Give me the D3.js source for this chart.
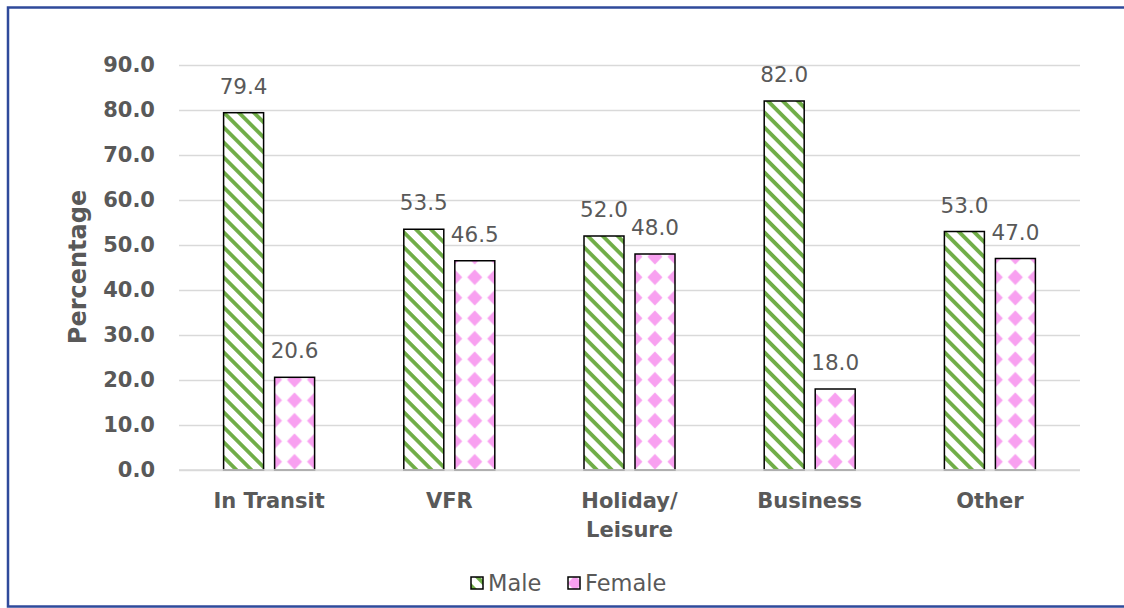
<!DOCTYPE html>
<html lang="en">
<head>
    <meta charset="UTF-8">
    <title>Purpose of Visit by Sex</title>
    <style>
        body { margin: 0; background: #fff; }
        svg { display: block; font-family: "DejaVu Sans", "Noto Sans", sans-serif; }
    </style>
    <script src="https://d3js.org/d3.v7.min.js"></script>
</head>
<body>
    <svg width="1124" height="608"></svg>

    <script>
        // data
        const categories = [['In Transit'], ['VFR'], ['Holiday/', 'Leisure'], ['Business'], ['Other']];
        const seriesNames = ['Male', 'Female'];
        const male = [79.4, 53.5, 52.0, 82.0, 53.0];
        const female = [20.6, 46.5, 48.0, 18.0, 47.0];
        const yTicks = [0, 10, 20, 30, 40, 50, 60, 70, 80, 90];

        const textColor = '#595959';
        const svg = d3.select('svg');

        // fill patterns
        const defs = svg.append('defs');
        function stripePattern(id) {
            const p = defs.append('pattern')
                .attr('id', id)
                .attr('patternUnits', 'userSpaceOnUse')
                .attr('width', 10.6).attr('height', 10.6)
                .attr('patternTransform', 'rotate(45)');
            p.append('rect').attr('width', 10.6).attr('height', 10.6).attr('fill', '#fff');
            p.append('rect').attr('y', 0).attr('width', 10.6).attr('height', 3.8).attr('fill', '#70AD47');
        }
        // pattern offsets are in the local coords of whatever uses them
        function diamondPattern(id, ox, oy) {
            const p = defs.append('pattern')
                .attr('id', id)
                .attr('patternUnits', 'userSpaceOnUse')
                .attr('x', ox).attr('y', oy)
                .attr('width', 20).attr('height', 20.5);
            p.append('rect').attr('width', 20).attr('height', 20.5).attr('fill', '#fff');
            p.append('path')
                .attr('d', 'M10 2.5 L17.5 10.25 L10 18 L2.5 10.25 Z')
                .attr('fill', '#F8A0F0');
        }
        stripePattern('pat-male');
        diamondPattern('pat-female', 5.5, -3);
        diamondPattern('pat-female-leg', -3, -10);

        const margin = { left: 179, right: 44, top: 65, bottom: 138 };
        const width = 1124 - margin.left - margin.right;
        const height = 608 - margin.top - margin.bottom;

        const x = d3.scaleBand().domain(d3.range(categories.length)).range([0, width]);
        const xs = d3.scaleBand().domain(seriesNames)
            .range([x.bandwidth() / 2 - 45.5, x.bandwidth() / 2 + 45.5]).paddingInner(0.216);
        const y = d3.scaleLinear().domain([0, 90]).range([height, 0]);

        const g = svg.append('g').attr('transform', `translate(${margin.left},${margin.top})`);

        // gridlines + y labels
        g.append('g')
            .call(d3.axisLeft(y).tickValues(yTicks).tickSize(-width).tickFormat(d => d.toFixed(1)))
            .call(a => a.select('.domain').remove())
            .call(a => a.selectAll('.tick line').attr('stroke', '#D9D9D9').attr('stroke-width', 1.3))
            .call(a => a.selectAll('.tick text')
                .attr('x', -24)
                .attr('fill', textColor)
                .attr('font-family', '"DejaVu Sans", sans-serif')
                .attr('font-size', 21)
                .attr('font-weight', 700));

        // bars
        const rows = categories.map((c, i) => ({ i, vals: [male[i], female[i]] }));
        const grp = g.selectAll('.grp').data(rows).join('g')
            .attr('transform', d => `translate(${x(d.i)},0)`);

        grp.selectAll('rect')
            .data(d => d.vals.map((v, k) => ({ key: seriesNames[k], v })))
            .join('rect')
            .attr('x', d => xs(d.key))
            .attr('y', d => y(d.v))
            .attr('width', xs.bandwidth())
            .attr('height', d => y(0) - y(d.v))
            .attr('fill', d => d.key === 'Male' ? 'url(#pat-male)' : 'url(#pat-female)')
            .attr('stroke', '#000')
            .attr('stroke-width', 1.5);

        grp.selectAll('.lbl')
            .data(d => d.vals.map((v, k) => ({ key: seriesNames[k], v })))
            .join('text')
            .attr('class', 'lbl')
            .attr('x', d => xs(d.key) + xs.bandwidth() / 2)
            .attr('y', d => y(d.v) - 19)
            .attr('text-anchor', 'middle')
            .attr('fill', textColor)
            .attr('font-size', 21.5)
            .text(d => d.v.toFixed(1));

        // x axis line
        g.append('line')
            .attr('x1', 0).attr('x2', width)
            .attr('y1', y(0)).attr('y2', y(0))
            .attr('stroke', '#D9D9D9').attr('stroke-width', 1.3);

        const xl = g.selectAll('.xl').data(categories).join('text')
            .attr('class', 'xl')
            .attr('x', (d, i) => x(i) + x.bandwidth() / 2)
            .attr('y', y(0) + 38)
            .attr('text-anchor', 'middle')
            .attr('fill', textColor)
            .attr('font-size', 21)
            .attr('font-weight', 700);
        xl.selectAll('tspan').data(d => d).join('tspan')
            .attr('x', function () { return d3.select(this.parentNode).attr('x'); })
            .attr('dy', (d, i) => i === 0 ? 0 : 29)
            .text(d => d);

        // y title
        svg.append('text')
            .attr('transform', 'translate(86,267) rotate(-90)')
            .attr('text-anchor', 'middle')
            .attr('fill', textColor)
            .attr('font-size', 24)
            .attr('font-weight', 700)
            .text('Percentage');

        // legend
        const legendX = [471, 568];
        const litems = svg.append('g').selectAll('g').data(seriesNames).join('g')
            .attr('transform', (d, i) => `translate(${legendX[i]},583)`);
        litems.append('rect')
            .attr('x', 0).attr('y', -6).attr('width', 12).attr('height', 12)
            .attr('fill', d => d === 'Male' ? 'url(#pat-male)' : 'url(#pat-female-leg)')
            .attr('stroke', '#000').attr('stroke-width', 1.5);
        litems.append('text')
            .attr('x', 17).attr('y', 8)
            .attr('fill', textColor)
            .attr('font-size', 22.5)
            .text(d => d);

        // outer frame
        svg.append('rect')
            .attr('x', 8).attr('y', 7.5)
            .attr('width', 1130).attr('height', 599)
            .attr('fill', 'none')
            .attr('stroke', '#2F4A9B')
            .attr('stroke-width', 2.5);
    </script>
</body>
</html>
